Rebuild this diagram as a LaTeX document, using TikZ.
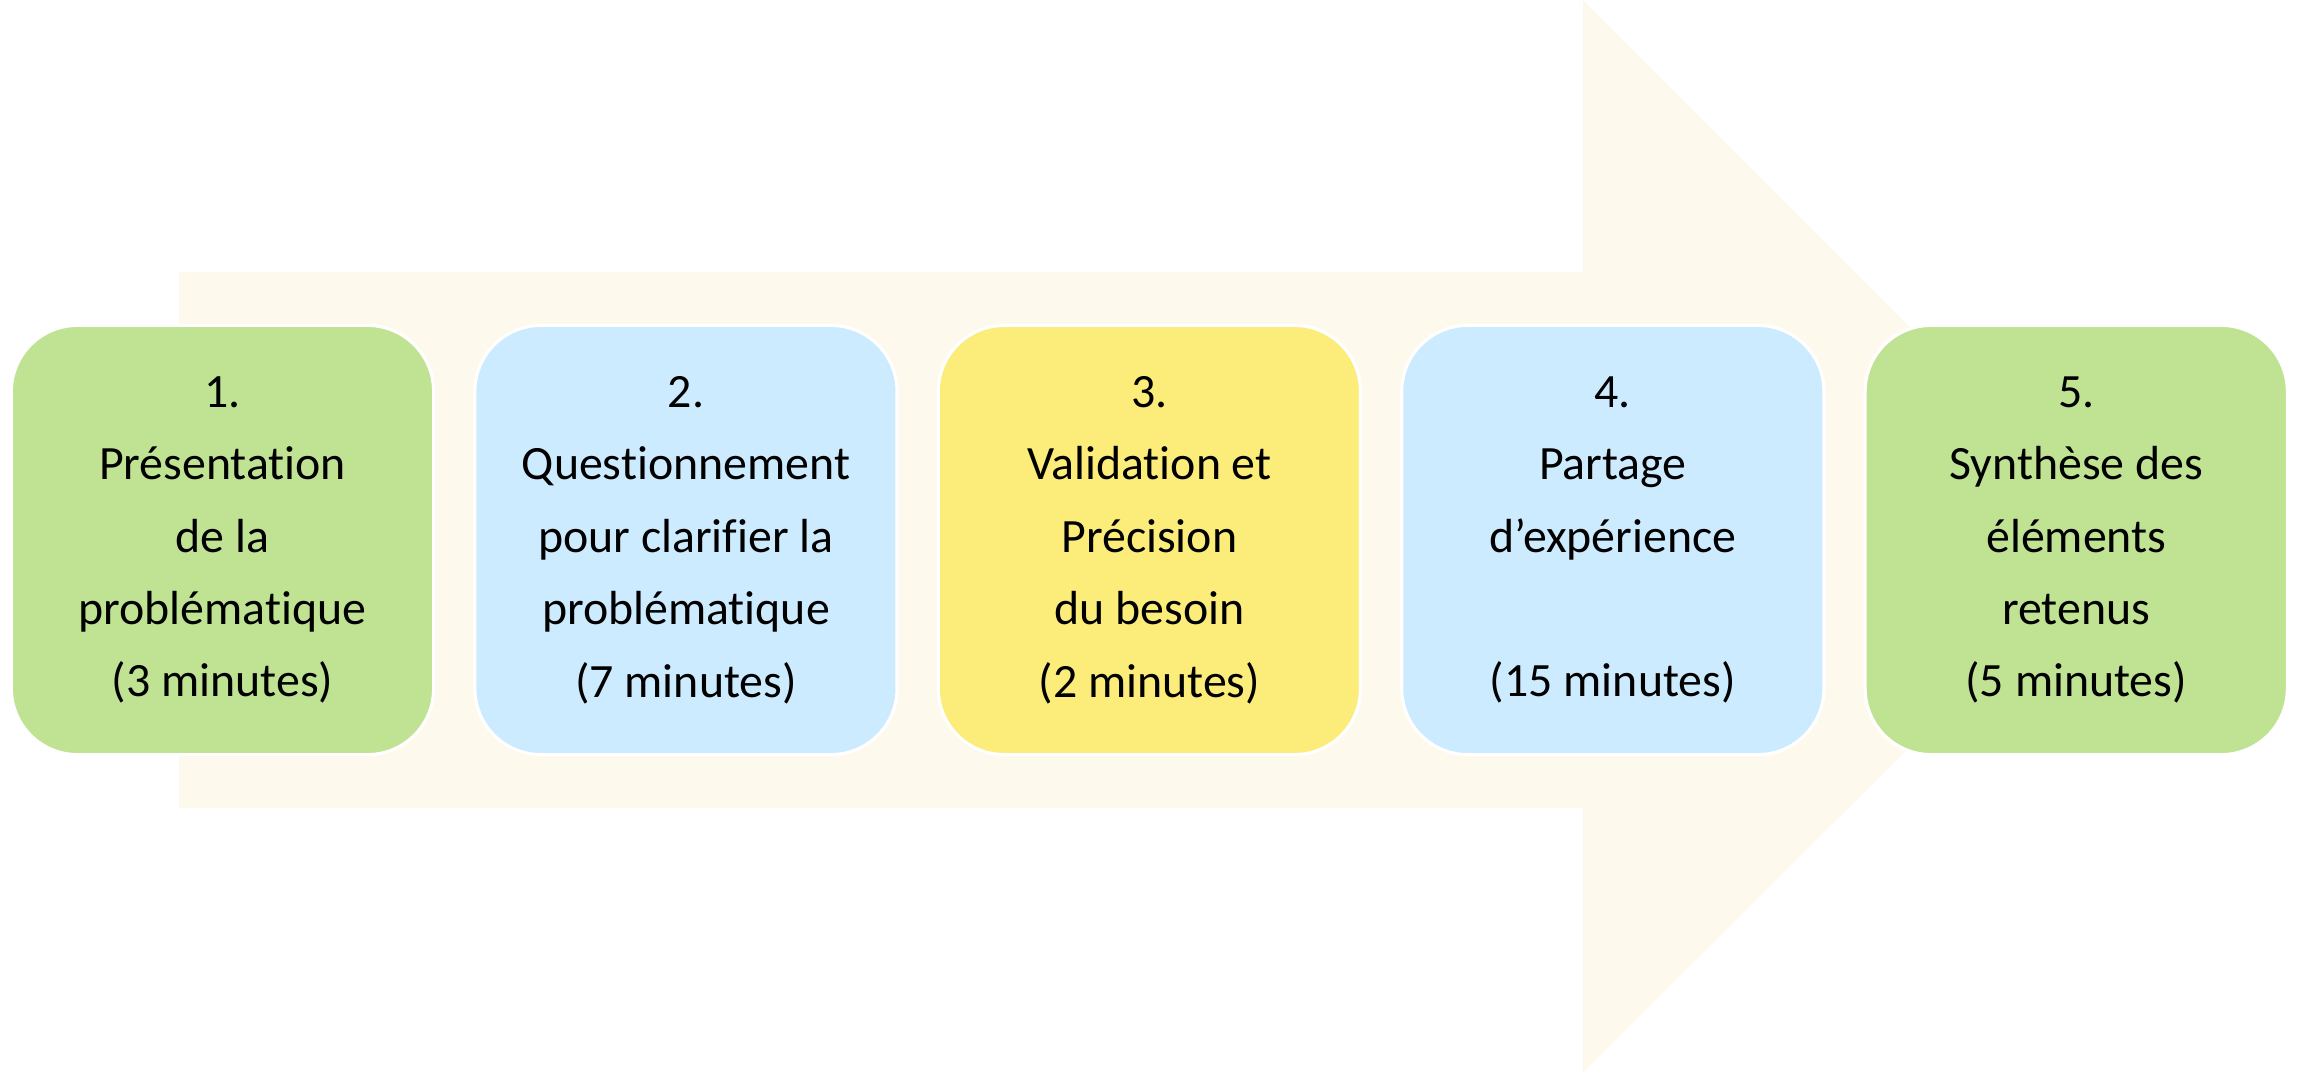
\documentclass[tikz,border=0pt]{standalone}
\usepackage{fontspec}
\setmainfont{Carlito}[Ligatures={NoCommon}]
\usepackage{tikz}
\usetikzlibrary{shapes, positioning, calc}

\definecolor{stagegreen}{HTML}{C0E293}
\definecolor{stageblue}{HTML}{CCEBFE}
\definecolor{stageyellow}{HTML}{FCEC7A}
\definecolor{flowfill}{HTML}{FEF9ED}

\begin{document}
\begin{tikzpicture}
            [x=0.01cm, y=-0.01cm, node distance=0.38cm,
            stage/.style={rectangle, rounded corners=0.66cm, align=center, draw=white, line width=0.9pt,
                minimum width=4.22cm, minimum height=4.29cm, inner sep=0pt,
                font={\fontsize{13.6}{20.6}\selectfont}}]

            \useasboundingbox (0,0) rectangle (2303,1073);

            \fill[flowfill] (179,272) -- (1583,272) -- (1583,0) -- (2120,537)
                -- (1583,1073) -- (1583,808) -- (179,808) -- cycle;

            \node[stage, fill=stagegreen] (a) at (222.5,540)
                {1.\\Présentation\\de la\\problématique\\(3 minutes)};
            \node[stage, fill=stageblue] (b) [right = of a]
                {2.\\Questionnement\\pour clarifier la\\problématique\\(7 minutes)};
            \node[stage, fill=stageyellow] (c) [right = of b]
                {3.\\Validation et\\Précision\\du besoin\\(2 minutes)};
            \node[stage, fill=stageblue] (d) [right = of c]
                {4.\\Partage\\d’expérience\\~\\(15 minutes)};
            \node[stage, fill=stagegreen] (e) [right = of d]
                {5.\\Synthèse des\\éléments\\retenus\\(5 minutes)};

        \end{tikzpicture}
\end{document}
